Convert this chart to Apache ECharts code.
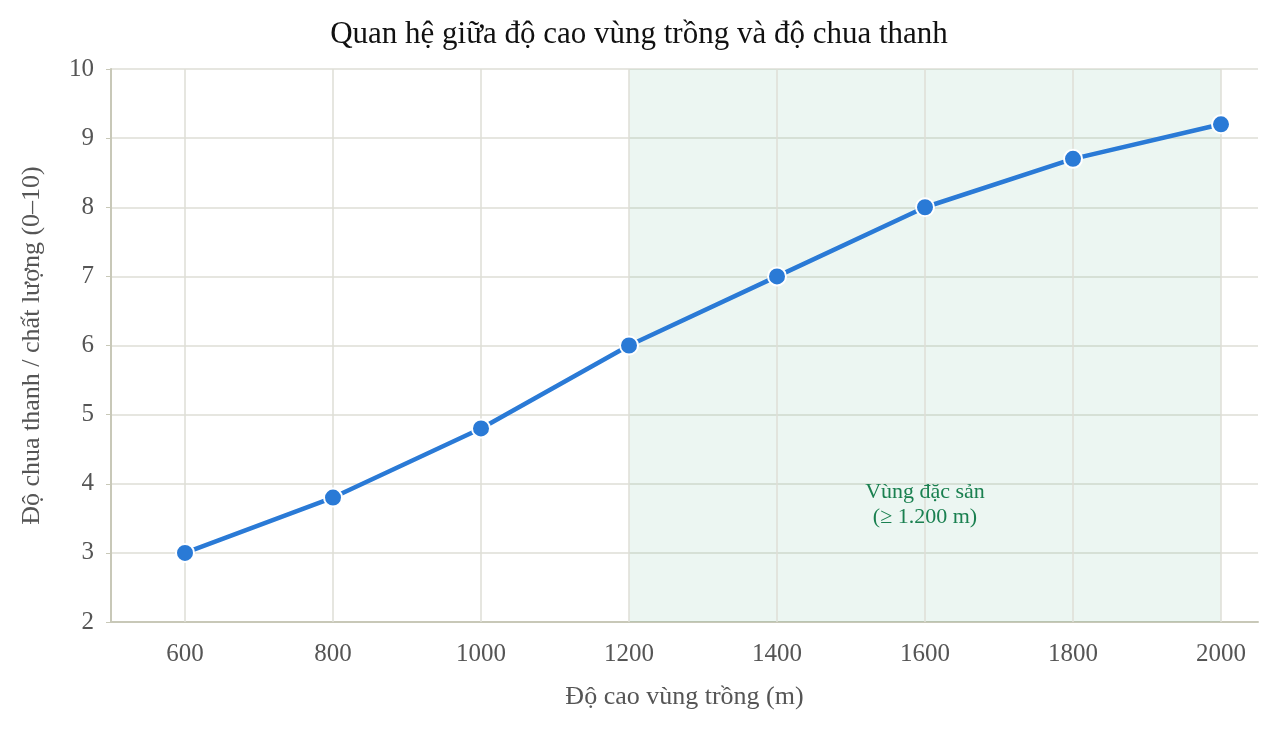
<!DOCTYPE html>
<html><head><meta charset="utf-8">
<script src="https://cdn.jsdelivr.net/npm/echarts@6/dist/echarts.min.js"></script>
<style>html,body{margin:0;padding:0;background:#fff}#c{width:1278px;height:733px}</style>
</head><body><div id="c"></div>
<script>
const altitudes = [600, 800, 1000, 1200, 1400, 1600, 1800, 2000];
const acidity = [3.0, 3.8, 4.8, 6.0, 7.0, 8.0, 8.7, 9.2];
const xGridValues = [600, 800, 1000, 1200, 1400, 1600, 1800, 2000];
const zoneRange = [1200, 2000];
const zoneLabel = 'Vùng đặc sản\n(≥ 1.200 m)';
const font = 'Liberation Serif, DejaVu Serif, serif';
const chart = echarts.init(document.getElementById('c'));
chart.setOption({
  animation: false,
  textStyle: {fontFamily: font},
  title: {text: 'Quan hệ giữa độ cao vùng trồng và độ chua thanh', left: 'center', top: 14,
    textStyle: {fontFamily: font, fontSize: 31, fontWeight: 'normal', color: '#111'}},
  grid: {left: 111, right: 20, top: 69, bottom: 111},
  xAxis: {type: 'value', min: 500, max: 2050, interval: 100,
    name: 'Độ cao vùng trồng (m)', nameLocation: 'middle', nameGap: 62,
    nameTextStyle: {fontFamily: font, fontSize: 26, color: '#555'},
    axisLine: {show: true, lineStyle: {color: '#c8c8b8', width: 2}},
    axisTick: {show: false}, splitLine: {show: false},
    axisLabel: {fontFamily: font, fontSize: 25, color: '#555', margin: 20,
      formatter: v => (v % 200 === 0 ? String(v) : '')}},
  yAxis: {type: 'value', min: 2, max: 10, interval: 1,
    name: 'Độ chua thanh / chất lượng (0–10)', nameLocation: 'middle', nameGap: 66,
    nameTextStyle: {fontFamily: font, fontSize: 26, color: '#555'},
    axisLine: {show: true, lineStyle: {color: '#c8c8b8', width: 2}},
    axisTick: {show: true, length: 5, lineStyle: {color: '#c8c8b8'}},
    splitLine: {lineStyle: {color: '#deded6', width: 1.5}},
    axisLabel: {fontFamily: font, fontSize: 25, color: '#555', margin: 17}},
  series: [{
    type: 'line', data: altitudes.map((x, i) => [x, acidity[i]]),
    lineStyle: {color: '#2a7ad6', width: 4.5}, symbol: 'circle', symbolSize: 18,
    itemStyle: {color: '#2a7ad6', borderColor: '#fff', borderWidth: 2}, z: 5,
    markLine: {silent: true, symbol: 'none', label: {show: false},
      lineStyle: {color: '#deded6', width: 1.5, type: 'solid'},
      data: xGridValues.map(v => ({xAxis: v}))},
    markArea: {silent: true, itemStyle: {color: 'rgba(46,160,110,0.09)'},
      data: [[{xAxis: zoneRange[0]}, {xAxis: zoneRange[1]}]]},
    markPoint: {silent: true, symbolSize: 0,
      data: [{coord: [1600, 3.7], value: 0}],
      label: {show: true, formatter: zoneLabel, fontFamily: font, fontSize: 22,
        color: '#1a8050', lineHeight: 25, align: 'center'}}
  }]
});
</script></body></html>
